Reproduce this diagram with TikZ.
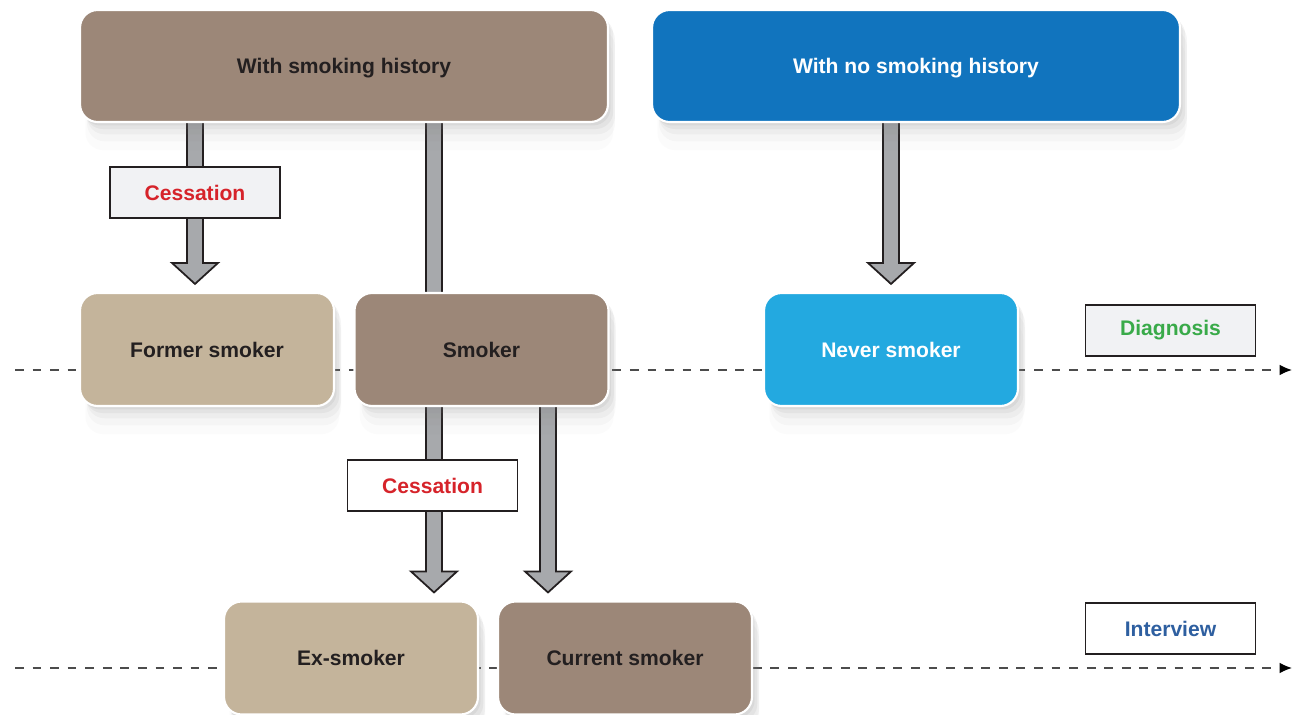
\documentclass[tikz,border=0pt]{standalone}
\usepackage{fontspec}
\setmainfont{Liberation Sans}
\usetikzlibrary{arrows.meta,calc,shadows,backgrounds}

\definecolor{histbrown}{RGB}{156,135,120}
\definecolor{histtan}{RGB}{196,180,155}
\definecolor{nohistblue}{RGB}{17,116,190}
\definecolor{neverblue}{RGB}{35,169,224}
\definecolor{inkdark}{RGB}{35,31,32}
\definecolor{cessred}{RGB}{214,35,42}
\definecolor{diaggreen}{RGB}{57,170,73}
\definecolor{intblue}{RGB}{46,95,160}
\definecolor{tagfill}{RGB}{241,242,244}
\definecolor{arrowgray}{RGB}{167,169,172}

% block arrow from one box down to another, at a given x
\newcommand{\fatarrow}[3]{%
    \coordinate (a) at (#1,0 |- #2.south);
    \coordinate (b) at (#1,0 |- #3.north);
    \draw[fat arrow] ($(a)+(-8,-6)$) -- ($(b)+(-8,-29)$) -- ($(b)+(-23,-29)$)
        -- ($(b)+(0,-8)$) -- ($(b)+(23,-29)$) -- ($(b)+(8,-29)$)
        -- ($(a)+(8,-6)$) -- cycle;
}
% plain shaft, no head
\newcommand{\fatbar}[3]{%
    \coordinate (a) at (#1,0 |- #2.south);
    \coordinate (b) at (#1,0 |- #3.north);
    \draw[fat arrow] ($(a)+(-8,-6)$) rectangle ($(b)+(8,6)$);
}

\begin{document}
\begin{tikzpicture}[x=0.02cm,y=-0.02cm,font=\fontsize{12}{14}\selectfont\bfseries]
    \tikzset{
        % rounded boxes with a soft shadow
        box/.style={rectangle, rounded corners=10pt, draw=white, line width=1.2pt,
            fill=#1, text=inkdark, inner sep=0pt, text depth=-2pt,
            drop shadow={opacity=0.10, shadow xshift=1.5pt, shadow yshift=-2pt},
            drop shadow={opacity=0.09, shadow xshift=3pt, shadow yshift=-4pt},
            drop shadow={opacity=0.07, shadow xshift=4pt, shadow yshift=-7pt},
            drop shadow={opacity=0.05, shadow xshift=4pt, shadow yshift=-11pt},
            drop shadow={opacity=0.03, shadow xshift=3pt, shadow yshift=-16pt}},
        wide box/.style={box=#1, minimum width=10.56cm, minimum height=2.24cm},
        small box/.style={box=#1, minimum width=5.08cm, minimum height=2.26cm},
        % labels
        tag/.style={rectangle, draw=inkdark, line width=1pt, fill=#1,
            minimum width=3.4cm, minimum height=1.02cm, inner sep=0pt},
        fat arrow/.style={draw=inkdark, fill=arrowgray, line width=1pt, miter limit=10},
        time line/.style={draw=black!70, line width=0.7pt, dash pattern=on 5pt off 5pt,
            -{Latex[length=7pt,width=6pt,black]}}
    }
    \useasboundingbox (0,0) rectangle (1301,715);

    % First row of nodes
    \node[wide box=histbrown] (hist) at (344,66) {With smoking history};
    \node[wide box=nohistblue, text=white] (nohist) at (916,66) {With no smoking history};

    % Second row of nodes
    \node[small box=histtan] (former) at (207,349.5) {Former smoker};
    \node[small box=histbrown] (smoker) at (481.5,349.5) {Smoker};
    \node[small box=neverblue, text=white] (never) at (891,349.5) {Never smoker};

    % Third row of nodes
    \node[small box=histtan] (ex) at (351,658) {Ex-smoker};
    \node[small box=histbrown] (current) at (625,658) {Current smoker};

    % Labels
    \node[tag=tagfill, text=cessred] (cess1) at (195,192.5) {Cessation};
    \node[tag=white, text=cessred] (cess2) at (432.5,485.5) {Cessation};
    \node[tag=tagfill, text=diaggreen] (diag) at (1170.5,330.5) {Diagnosis};
    \node[tag=white, text=intblue] (inter) at (1170.5,628.5) {Interview};

    % Time lines and arrows behind the boxes
    \coordinate (diagL) at (15,370);
    \coordinate (diagR) at (1292,370);
    \coordinate (interL) at (15,668);
    \coordinate (interR) at (1292,668);
    \begin{scope}[on background layer]
        \draw[time line] (diagL) -- (diagR);
        \draw[time line] (interL) -- (interR);
        \fatarrow{195}{hist}{former}
        \fatbar{434}{hist}{smoker}
        \fatarrow{891}{nohist}{never}
        \fatarrow{434}{smoker}{ex}
        \fatarrow{548}{smoker}{current}
    \end{scope}
\end{tikzpicture}
\end{document}
